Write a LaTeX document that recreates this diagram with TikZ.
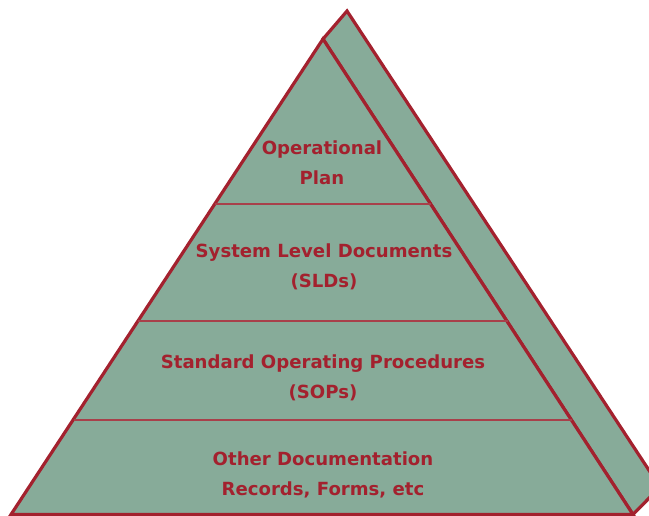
\documentclass[tikz,border=0pt]{standalone}
\usepackage{fontspec}
\setmainfont{DejaVu Sans}
\definecolor{pyrfill}{HTML}{87AB99}
\definecolor{pyrred}{HTML}{A3212E}
\definecolor{divred}{HTML}{A8404A}
\tikzset{
  face/.style={fill=pyrfill, draw=pyrred, line width=3.2pt, line join=miter},
  divider/.style={draw=divred, line width=1.4pt},
  label/.style={text=pyrred, font=\fontsize{18.1}{30}\selectfont\bfseries, align=center, inner sep=0pt}
}
\begin{document}
\begin{tikzpicture}[x=1pt,y=-1pt]
\useasboundingbox (0,0) rectangle (649,516);
\begin{scope}
\clip (0,0) rectangle (649,516);
\draw[face] (347,11) -- (660,487) -- (633,514.5) -- (323,39) -- cycle;
\draw[face] (323,39) -- (633,514.5) -- (11,514.5) -- cycle;
\end{scope}
\coordinate (l1) at (215,204);   \coordinate (r1) at (431,204);
\coordinate (l2) at (138.4,321); \coordinate (r2) at (507.6,321);
\coordinate (l3) at (73.6,420);  \coordinate (r3) at (572.4,420);
\draw[divider] (l1) -- (r1);
\draw[divider] (l2) -- (r2);
\draw[divider] (l3) -- (r3);
\node[label] (t1) at (322,163) {Operational\\Plan};
\node[label] (t2) at (324,267) {System Level Documents\\(SLDs)};
\node[label] (t3) at (323,378) {Standard Operating Procedures\\(SOPs)};
\node[label] (t4) at (323,475) {Other Documentation\\Records, Forms, etc};
\end{tikzpicture}
\end{document}
